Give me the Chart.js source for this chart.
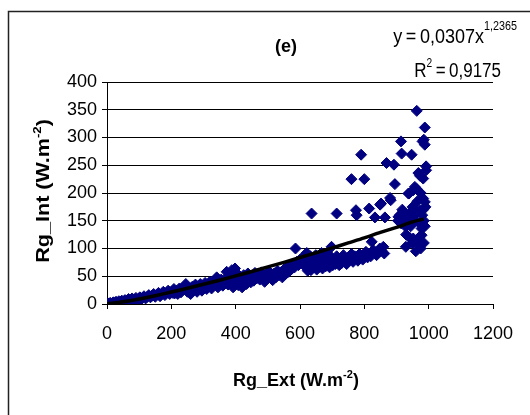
<!DOCTYPE html>
<html>
<head>
<meta charset="utf-8">
<script src="https://cdn.jsdelivr.net/npm/chart.js@4/dist/chart.umd.min.js"></script>
<style>
  html, body { margin: 0; padding: 0; background: #fff; }
  #wrap { width: 530px; height: 415px; }
</style>
</head>
<body>
<div id="wrap"><canvas id="c" width="530" height="415"></canvas></div>
<script>
/* Rg_Int vs Rg_Ext scatter, panel (e), with power trendline */

const FONT = "'Liberation Sans', Arial, sans-serif";
const NAVY = '#000080';

const rgExt = [
  2, 4, 6, 8, 10, 12, 15, 18, 20, 23, 26, 28, 31, 34, 37, 40, 43, 46, 50, 53,
  56, 60, 63, 67, 70, 74, 78, 82, 86, 90, 94, 98, 102, 106, 110, 115, 120, 125, 130, 135,
  140, 145, 150, 155, 160, 165, 170, 175, 180, 185, 190, 195, 200, 205, 208, 210,
  215, 220, 225, 230, 238, 242, 245, 250, 255, 260, 265, 270, 275, 280, 285, 290, 295, 300,
  305, 310, 315, 320, 325, 330, 335, 341, 345, 350, 355, 360, 365, 370, 372, 376, 380, 385,
  388, 392, 395, 398, 400, 404,
  408, 412, 416, 420, 425, 430, 434, 438, 442, 447, 452, 456, 460, 465, 470, 475, 480, 485,
  490, 495, 500, 505, 510, 515, 520, 525, 530, 535, 540, 545, 550, 555, 560, 565, 570, 574,
  579, 583, 586, 590, 595, 600,
  605, 610, 615, 618, 621, 624, 626, 629, 632, 634, 637, 640, 643, 646, 649, 652, 655, 658,
  661, 664, 667, 670, 673, 676, 680, 684, 688, 692, 695, 698, 702, 706, 710, 714, 718, 722,
  726, 730, 735, 740, 745, 750, 755, 760, 765, 770, 775, 780, 785, 790, 795, 800, 805, 810,
  815, 820, 823, 828, 833, 838, 843, 848, 853, 859, 862,
  636, 714, 760, 776, 774, 790, 800, 815, 833, 852, 864, 869,
  880, 882, 892, 895, 906, 914, 916, 921, 929, 929, 937, 945, 947, 952, 957, 963, 968, 968,
  973, 973, 978, 978, 981, 985, 988, 988, 988, 992, 992, 849, 983, 973, 963, 952, 939, 983,
  905, 910, 915, 918, 925, 932, 940, 944, 950, 955, 960, 965, 970, 975, 980, 983, 985, 988,
  990, 985, 975, 960, 950, 940, 930
];
const rgInt = [
  0, 1, 0, 1, 2, 0, 1, 2, 3, 1, 2, 4, 3, 2, 5, 3, 4, 6, 3, 5,
  7, 4, 6, 9, 5, 7, 10, 6, 8, 11, 7, 9, 12, 8, 11, 14, 10, 13, 16, 12,
  15, 18, 13, 17, 20, 14, 18, 22, 16, 20, 24, 18, 22, 20, 27, 19,
  24, 18, 28, 21, 26, 32, 36, 22, 28, 18, 31, 25, 35, 22, 29, 36, 24, 31,
  38, 27, 33, 40, 28, 35, 42, 48, 30, 37, 44, 33, 40, 47, 58, 35, 43, 52,
  61, 30, 38, 64, 46, 55,
  34, 48, 40, 30, 52, 44, 36, 55, 47, 39, 50, 42, 56, 46, 53, 44, 57, 49,
  40, 54, 47, 58, 51, 43, 55, 48, 60, 52, 57, 48, 62, 54, 66, 58, 70, 63,
  73, 66, 100, 76, 70, 80,
  74, 84, 68, 90, 92, 60, 64, 78, 86, 61, 72, 82, 66, 75, 88, 62, 70, 80,
  67, 76, 92, 64, 73, 84, 68, 78, 90, 66, 74, 103, 70, 80, 72, 86, 76, 70,
  82, 74, 88, 78, 72, 84, 80, 90, 76, 86, 82, 78, 90, 84, 80, 88, 94, 84,
  90, 86, 112, 97, 92, 88, 94, 100, 96, 103, 91,
  163, 163, 225, 160, 169, 269, 225, 172, 156, 181, 156, 254,
  191, 187, 251, 216, 157, 293, 271, 166, 139, 103, 199, 166, 269, 118, 211, 348, 236, 109,
  169, 145, 136, 124, 293, 296, 318, 287, 184, 248, 241, 179, 226, 231, 207, 205, 199, 190,
  150, 160, 145, 170, 152, 160, 150, 140, 175, 160, 150, 185, 120, 200, 160, 170, 150, 140,
  175, 110, 100, 95, 110, 120, 125
];

// power trendline as traced on the figure
const trendX = [0, 50, 100, 150, 200, 250, 300, 350, 400, 450, 500, 550, 600, 650, 700, 750, 800, 850, 900, 950, 985];
const trendY = [0, 3.9, 9.1, 15, 21.5, 28.3, 35.5, 42.9, 50.6, 58.6, 66.8, 75, 83.7, 92.3, 101, 110, 119, 129, 138, 148, 153];

const xTicks = [0, 200, 400, 600, 800, 1000, 1200];
const yTicks = [0, 50, 100, 150, 200, 250, 300, 350, 400];

const panelLabel = '(e)';
const eqMain = 'y\u2009=\u20090,0307x';
const eqExp = '1,2365';
const r2Value = '0,9175';

// draw a run of [text, size, dy, bold] pieces, left to right
function drawRun(ctx, parts, x, y) {
  let cx = x;
  parts.forEach(([t, size, dy, bold]) => {
    ctx.font = (bold ? 'bold ' : '') + size + 'px ' + FONT;
    ctx.fillText(t, cx, y + dy);
    cx += ctx.measureText(t).width;
  });
  return cx - x;
}
function runWidth(ctx, parts) {
  let w = 0;
  parts.forEach(([t, size, dy, bold]) => {
    ctx.font = (bold ? 'bold ' : '') + size + 'px ' + FONT;
    w += ctx.measureText(t).width;
  });
  return w;
}
// same, squeezed or stretched horizontally by sx, anchored at its left edge
function drawScaled(ctx, parts, x, y, sx) {
  ctx.save();
  ctx.translate(x, y);
  ctx.scale(sx, 1);
  drawRun(ctx, parts, 0, 0);
  ctx.restore();
}

const decor = {
  id: 'decor',
  afterDraw(chart) {
    const ctx = chart.ctx;
    ctx.save();
    // outer frame (only left and top edges fall inside the picture)
    ctx.strokeStyle = '#222';
    ctx.lineWidth = 1.5;
    ctx.beginPath();
    ctx.moveTo(8.5, 415);
    ctx.lineTo(8.5, 11.5);
    ctx.lineTo(530, 11.5);
    ctx.stroke();

    ctx.fillStyle = '#000';
    ctx.textBaseline = 'alphabetic';
    ctx.textAlign = 'left';

    // panel label
    ctx.font = 'bold 18px ' + FONT;
    ctx.textAlign = 'center';
    ctx.fillText(panelLabel, 286, 52);
    ctx.textAlign = 'left';

    // equation and R², condensed like the original
    const eq = [[eqMain, 20, 0], [eqExp, 12, -13]];
    drawScaled(ctx, eq, 517 - runWidth(ctx, eq) * 0.9, 43, 0.9);
    const r2 = [['R', 20, 0], ['2', 12, -10], ['\u2009=\u2009' + r2Value, 20, 0]];
    drawScaled(ctx, r2, 501 - runWidth(ctx, r2) * 0.85, 77, 0.85);

    // x axis title
    const xt = [['Rg_Ext (W.m', 18, 0, true], ['-2', 11, -8, true], [')', 18, 0, true]];
    drawRun(ctx, xt, 296 - runWidth(ctx, xt) / 2, 386);

    // y axis title, rotated and drawn a bit longer
    const yt = [['Rg_Int (W.m', 18, 0, true], ['-2', 11, -8, true], [')', 18, 0, true]];
    ctx.translate(49, 191);
    ctx.rotate(-Math.PI / 2);
    ctx.scale(1.2, 1);
    drawRun(ctx, yt, -runWidth(ctx, yt) / 2, 0);
    ctx.restore();
  }
};

const scatterData = rgExt.map((x, i) => ({ x: x, y: rgInt[i] }));
const trendData = trendX.map((x, i) => ({ x: x, y: trendY[i] }));

new Chart(document.getElementById('c'), {
  type: 'scatter',
  data: {
    datasets: [
      {
        type: 'line',
        label: 'trend',
        data: trendData,
        borderColor: '#000',
        borderWidth: 3.5,
        pointRadius: 0,
        fill: false,
        tension: 0.3,
      },
      {
        label: 'Rg',
        data: scatterData,
        pointStyle: 'rectRot',
        pointRadius: 5.5,
        backgroundColor: NAVY,
        borderColor: NAVY,
        borderWidth: 1,
      },
    ],
  },
  options: {
    responsive: false,
    animation: false,
    events: [],
    layout: { padding: { left: 0, top: 82, right: 37, bottom: 0 } },
    plugins: {
      legend: { display: false },
      tooltip: { enabled: false },
      title: { display: false },
    },
    scales: {
      x: {
        type: 'linear',
        min: 0,
        max: 1200,
        afterBuildTicks(scale) { scale.ticks = xTicks.map(v => ({ value: v })); },
        afterFit(scale) { scale.height = 111; },
        grid: { drawOnChartArea: false, drawTicks: true, tickLength: 5, color: '#000', lineWidth: 1 },
        border: { display: true, color: '#000', width: 1 },
        ticks: {
          color: '#000', padding: 14, maxRotation: 0,
          font: { family: FONT, size: 18 },
          callback: v => String(v),
        },
      },
      y: {
        type: 'linear',
        min: 0,
        max: 400,
        afterBuildTicks(scale) { scale.ticks = yTicks.map(v => ({ value: v })); },
        afterFit(scale) { scale.width = 107; },
        grid: { drawOnChartArea: true, drawTicks: true, tickLength: 5, color: '#000', lineWidth: 1 },
        border: { display: true, color: '#000', width: 1 },
        ticks: {
          color: '#000', padding: 5,
          font: { family: FONT, size: 18 },
          callback: v => String(v),
        },
      },
    },
  },
  plugins: [decor],
});
</script>
</body>
</html>
